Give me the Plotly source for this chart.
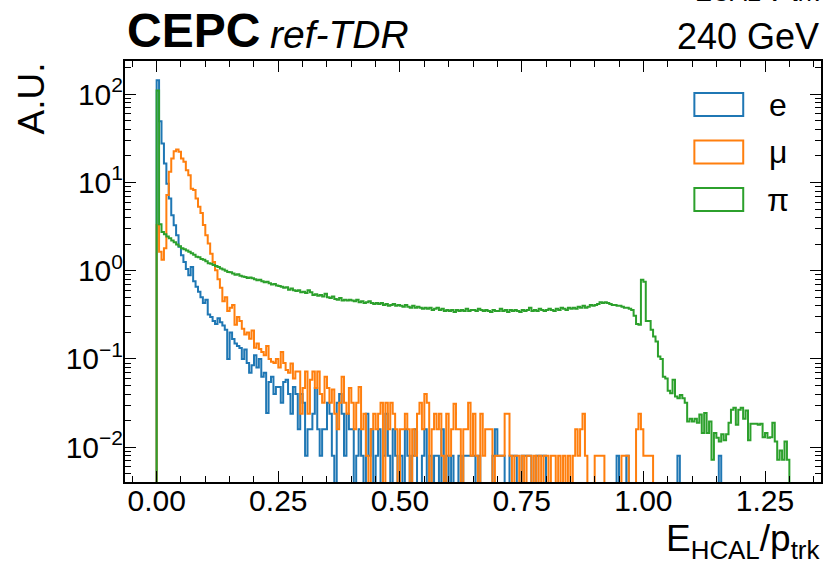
import plotly.graph_objects as go

# ---------------- data (A.U. per bin, bin width 0.005 from 0 to 1.3) ----------------
bin_width = 0.005
n_bins = 260
edges = [round(i * bin_width, 4) for i in range(n_bins + 1)]

e_vals = (
    [144, 49.5, 27.6, 16.4, 9.7, 6.6, 4.26, 3.28, 2.53, 1.87]
    + [1.5, 1.26, 1.05, 0.89, 1.1, 0.76, 0.66, 0.58, 0.5, 0.43]
    + [0.47, 0.32, 0.3, 0.27, 0.25, 0.29, 0.26, 0.24, 0.215, 0.10]
    + [0.2, 0.168, 0.15, 0.14, 0.133, 0.10, 0.128, 0.09, 0.07, 0.085]
    + [0.11, 0.08, 0.1, 0.063, 0.07, 0.0245, 0.055, 0.063, 0.04, 0.048]
    + [0.048, 0.032, 0.055, 0.058, 0.04, 0.024, 0.048, 0.04, 0.016, 0.04]
    + [0.032, 0.008, 0.016, 0.016, 0.024, 0.047, 0.016, 0.008, 0.016, 0.016]
    + [0.032, 0.024, 0.008, 0, 0.032, 0.04, 0.024, 0.008, 0.024, 0.016]
    + [0.016, 0, 0.008, 0.016, 0.008, 0, 0.024, 0.008, 0.016, 0]
    + [0.008, 0.016, 0, 0.008, 0.024, 0.008, 0, 0.016, 0.008, 0]
    + [0.008, 0, 0.016, 0.008, 0, 0.008, 0.016, 0, 0, 0.008]
    + [0.016, 0, 0.008, 0, 0.008, 0.008, 0, 0.016, 0, 0.008]
    + [0, 0.008, 0, 0, 0.008, 0, 0.008, 0.008, 0.008, 0.008]
    + [0.008, 0, 0.008, 0, 0, 0, 0, 0, 0.008, 0.016]
    + [0.008, 0.008, 0.008, 0, 0, 0.008, 0.008, 0.008, 0, 0]
    + [0.008, 0.008, 0.008, 0.008, 0, 0, 0.008, 0.008, 0.008, 0.008]
    + [0, 0, 0, 0, 0, 0, 0, 0, 0, 0]
    + [0, 0, 0, 0, 0, 0, 0, 0, 0, 0]
    + [0, 0, 0, 0, 0, 0, 0, 0, 0, 0.008]
    + [0, 0, 0, 0.008, 0, 0, 0, 0, 0, 0]
    + [0, 0, 0, 0, 0, 0, 0, 0, 0, 0]
    + [0, 0, 0, 0, 0.008, 0, 0, 0, 0, 0]
    + [0, 0, 0, 0, 0, 0, 0, 0, 0, 0]
    + [0, 0.008, 0, 0, 0, 0, 0, 0, 0, 0]
    + [0, 0, 0, 0, 0, 0, 0, 0, 0, 0]
    + [0, 0, 0, 0, 0, 0, 0, 0, 0, 0]
)

mu_vals = (
    [3.3, 1.64, 1.33, 1.8, 7.2, 13.2, 18.7, 22.6, 23.6, 22.3]
    + [18.7, 17.2, 13.8, 12.1, 8.5, 8.2, 6.6, 5.3, 4.5, 3.3]
    + [2.53, 2.04, 1.56, 1.26, 1.01, 0.8, 0.64, 0.45, 0.5, 0.35]
    + [0.38, 0.41, 0.245, 0.3, 0.27, 0.22, 0.19, 0.2, 0.17, 0.21]
    + [0.134, 0.15, 0.13, 0.12, 0.11, 0.14, 0.1, 0.093, 0.09, 0.1]
    + [0.08, 0.12, 0.09, 0.075, 0.07, 0.089, 0.06, 0.072, 0.072, 0.024]
    + [0.047, 0.072, 0.024, 0.058, 0.072, 0.047, 0.072, 0.04, 0.032, 0.063]
    + [0.047, 0.032, 0.045, 0.024, 0.016, 0.032, 0.063, 0.032, 0.024, 0.047]
    + [0.032, 0.016, 0.032, 0.048, 0.016, 0.024, 0.008, 0, 0.016, 0.024]
    + [0.016, 0.024, 0.032, 0, 0.032, 0.016, 0.032, 0.024, 0.016, 0]
    + [0.016, 0.016, 0.024, 0.016, 0, 0.016, 0.008, 0.024, 0.032, 0.016]
    + [0.04, 0.032, 0, 0.016, 0.024, 0.016, 0.024, 0.008, 0, 0.024]
    + [0.008, 0.016, 0.031, 0.016, 0.016, 0, 0.016, 0.016, 0.032, 0.008]
    + [0.024, 0.008, 0, 0.024, 0.008, 0.016, 0.016, 0.016, 0, 0.008]
    + [0.008, 0.008, 0.008, 0.024, 0.024, 0.008, 0, 0.008, 0.008, 0]
    + [0.008, 0, 0.008, 0.008, 0, 0.008, 0, 0.008, 0, 0.008]
    + [0.008, 0, 0.008, 0.008, 0, 0.008, 0, 0.008, 0, 0.008]
    + [0, 0.008, 0.016, 0.008, 0.016, 0.024, 0.008, 0, 0, 0]
    + [0.008, 0.008, 0.008, 0.008, 0, 0, 0, 0, 0, 0]
    + [0, 0.008, 0.008, 0.008, 0, 0, 0, 0.016, 0.024, 0.016]
    + [0.008, 0.008, 0.008, 0.008, 0, 0, 0, 0, 0, 0]
    + [0, 0, 0, 0, 0, 0, 0, 0, 0, 0]
    + [0, 0, 0, 0, 0, 0, 0, 0, 0, 0]
    + [0, 0, 0, 0, 0, 0, 0, 0, 0, 0]
    + [0, 0, 0, 0, 0, 0, 0, 0, 0, 0]
    + [0, 0, 0, 0, 0, 0, 0, 0, 0, 0]
)

pi_vals = (
    [110, 3.37, 2.75, 2.6, 2.45, 2.33, 2.2, 2.1, 1.98, 1.9]
    + [1.8, 1.75, 1.7, 1.64, 1.58, 1.52, 1.44, 1.42, 1.36, 1.33]
    + [1.28, 1.22, 1.2, 1.16, 1.13, 1.1, 1.06, 1.03, 1.0, 0.97]
    + [0.96, 0.93, 0.90, 0.91, 0.88, 0.86, 0.85, 0.83, 0.84, 0.82]
    + [0.80, 0.78, 0.79, 0.76, 0.74, 0.75, 0.72, 0.70, 0.71, 0.68]
    + [0.67, 0.66, 0.64, 0.65, 0.61, 0.63, 0.60, 0.59, 0.60, 0.57]
    + [0.58, 0.56, 0.60, 0.57, 0.53, 0.54, 0.52, 0.53, 0.51, 0.55]
    + [0.50, 0.49, 0.51, 0.48, 0.47, 0.49, 0.46, 0.47, 0.46, 0.47]
    + [0.46, 0.45, 0.47, 0.44, 0.45, 0.43, 0.44, 0.45, 0.43, 0.42]
    + [0.43, 0.42, 0.43, 0.41, 0.42, 0.40, 0.41, 0.42, 0.40, 0.41]
    + [0.40, 0.39, 0.41, 0.39, 0.38, 0.40, 0.38, 0.39, 0.38, 0.37]
    + [0.38, 0.37, 0.38, 0.36, 0.37, 0.38, 0.36, 0.37, 0.35, 0.36]
    + [0.35, 0.36, 0.34, 0.36, 0.35, 0.36, 0.35, 0.37, 0.35, 0.36]
    + [0.36, 0.35, 0.37, 0.36, 0.35, 0.36, 0.35, 0.34, 0.36, 0.35]
    + [0.35, 0.37, 0.35, 0.36, 0.34, 0.36, 0.35, 0.36, 0.35, 0.34]
    + [0.36, 0.35, 0.36, 0.38, 0.35, 0.36, 0.35, 0.37, 0.36, 0.35]
    + [0.36, 0.37, 0.36, 0.35, 0.37, 0.36, 0.38, 0.37, 0.36, 0.38]
    + [0.37, 0.38, 0.37, 0.39, 0.38, 0.40, 0.38, 0.39, 0.41, 0.40]
    + [0.41, 0.42, 0.44, 0.43, 0.44, 0.43, 0.42, 0.41, 0.41, 0.40]
    + [0.40, 0.39, 0.38, 0.38, 0.37, 0.36, 0.31, 0.25, 0.245, 0.79]
    + [0.75, 0.27, 0.27, 0.215, 0.18, 0.158, 0.107, 0.1, 0.063, 0.06]
    + [0.0437, 0.041, 0.058, 0.0376, 0.036, 0.039, 0.036, 0.032, 0.0196, 0.021]
    + [0.0196, 0.021, 0.019, 0.0235, 0.0145, 0.0245, 0.0145, 0.0196, 0.0072, 0.0145]
    + [0.0128, 0.0116, 0.014, 0.012, 0.014, 0.019, 0.0266, 0.028, 0.018, 0.0266]
    + [0.028, 0.021, 0.026, 0.012, 0.0185, 0.0185, 0.0185, 0.018, 0.0185, 0.013]
    + [0.0145, 0.0128, 0.013, 0.019, 0.0116, 0.0072, 0.0092, 0.0072, 0.0116, 0.0072]
)

series = [("e", e_vals, "#1f77b4"), ("μ", mu_vals, "#ff7f0e"), ("π", pi_vals, "#2ca02c")]

x_ticks = [0.0, 0.25, 0.5, 0.75, 1.0, 1.25]
x_ticktext = ["0.00", "0.25", "0.50", "0.75", "1.00", "1.25"]
y_ticks = [0.01, 0.1, 1, 10, 100]
y_ticktext = ["10<sup>−2</sup>", "10<sup>−1</sup>", "10<sup>0</sup>", "10<sup>1</sup>", "10<sup>2</sup>"]

# ---------------- figure ----------------
FONT = "Liberation Sans, Arial, Helvetica, sans-serif"
W, H = 828, 561
PL, PR, PT, PB = 125, 823, 61, 482
FLOOR = 1e-5  # empty bins drawn down past the axis bottom

def px(xp):
    return (xp - PL) / (PR - PL)

def py(yp):
    return (PB - yp) / (PB - PT)

fig = go.Figure()
for name, vals, color in series:
    assert len(vals) == n_bins, (name, len(vals))
    xs = [edges[0]] + edges[:-1] + [edges[-1]]
    ys = [FLOOR] + [v if v > 0 else FLOOR for v in vals] + [FLOOR]
    fig.add_trace(go.Scatter(
        x=xs, y=ys, mode="lines", name=name,
        line=dict(color=color, width=2, shape="hv"),
        showlegend=False, hoverinfo="skip",
    ))

minor_y = [m * 10 ** k for k in range(-3, 3) for m in range(2, 10)]

fig.update_layout(
    width=W, height=H,
    margin=dict(l=PL, r=W - PR, t=PT, b=H - PB, pad=0),
    paper_bgcolor="white", plot_bgcolor="white",
    font=dict(family=FONT, color="black", size=30),
    xaxis=dict(
        range=[-0.065, 1.365], tickmode="array", tickvals=x_ticks, ticktext=x_ticktext,
        ticks="inside", ticklen=11, tickwidth=1.2, tickcolor="black",
        showline=True, linewidth=2, linecolor="black", mirror="allticks",
        showgrid=False, zeroline=False, ticklabelstandoff=-9,
        tickfont=dict(size=30, family=FONT),
        minor=dict(tickmode="linear", tick0=0, dtick=0.05, ticks="inside",
                   ticklen=6, tickwidth=1, tickcolor="black", showgrid=False),
    ),
    yaxis=dict(
        type="log", range=[-2.394, 2.377], tickmode="array", tickvals=y_ticks, ticktext=y_ticktext,
        ticks="inside", ticklen=11, tickwidth=1.2, tickcolor="black",
        showline=True, linewidth=2, linecolor="black", mirror="allticks",
        showgrid=False, zeroline=False, ticklabelstandoff=-6,
        tickfont=dict(size=30, family=FONT),
        minor=dict(tickmode="array", tickvals=minor_y, ticks="inside",
                   ticklen=6, tickwidth=1, tickcolor="black", showgrid=False),
    ),
)

ann = []
ann.append(dict(text="<b>CEPC</b>", x=0, xref="paper", xanchor="left", y=1, yref="paper",
                yanchor="bottom", yshift=2, showarrow=False, font=dict(size=48, family=FONT)))
ann.append(dict(text="<i>ref-TDR</i>", x=px(268), xref="paper", xanchor="left", y=1, yref="paper",
                yanchor="bottom", yshift=3, showarrow=False, font=dict(size=39, family=FONT)))
ann.append(dict(text="240 GeV", x=1, xref="paper", xanchor="right", y=1, yref="paper",
                yanchor="bottom", yshift=2, showarrow=False, font=dict(size=36, family=FONT)))
ann.append(dict(text="E<sub>ECAL</sub>/p<sub>trk</sub>", x=1, xref="paper", xanchor="right", y=1, yref="paper",
                yanchor="bottom", yshift=53, showarrow=False, font=dict(size=36, family=FONT)))
ann.append(dict(text="A.U.", textangle=-90, x=0, xref="paper", xanchor="right", xshift=-72,
                y=1, yref="paper", yanchor="top", showarrow=False, font=dict(size=37, family=FONT)))
ann.append(dict(text="E<sub>HCAL</sub>/p<sub>trk</sub>", x=1, xref="paper", xanchor="right",
                y=0, yref="paper", yanchor="top", yshift=-34, showarrow=False,
                font=dict(size=37, family=FONT)))

shapes = []
leg_centers = [104.5, 152, 199.5]
for (name, vals, color), cy in zip(series, leg_centers):
    shapes.append(dict(type="rect", xref="paper", yref="paper",
                       x0=px(696), x1=px(745), y0=py(cy + 11.5), y1=py(cy - 11.5),
                       line=dict(color=color, width=2), fillcolor="rgba(0,0,0,0)"))
    ann.append(dict(text=name, x=px(780), xref="paper", xanchor="center", y=py(cy), yref="paper",
                    yanchor="middle", showarrow=False, font=dict(size=32, family=FONT)))

fig.update_layout(annotations=ann, shapes=shapes)
fig.write_html("out.html")
